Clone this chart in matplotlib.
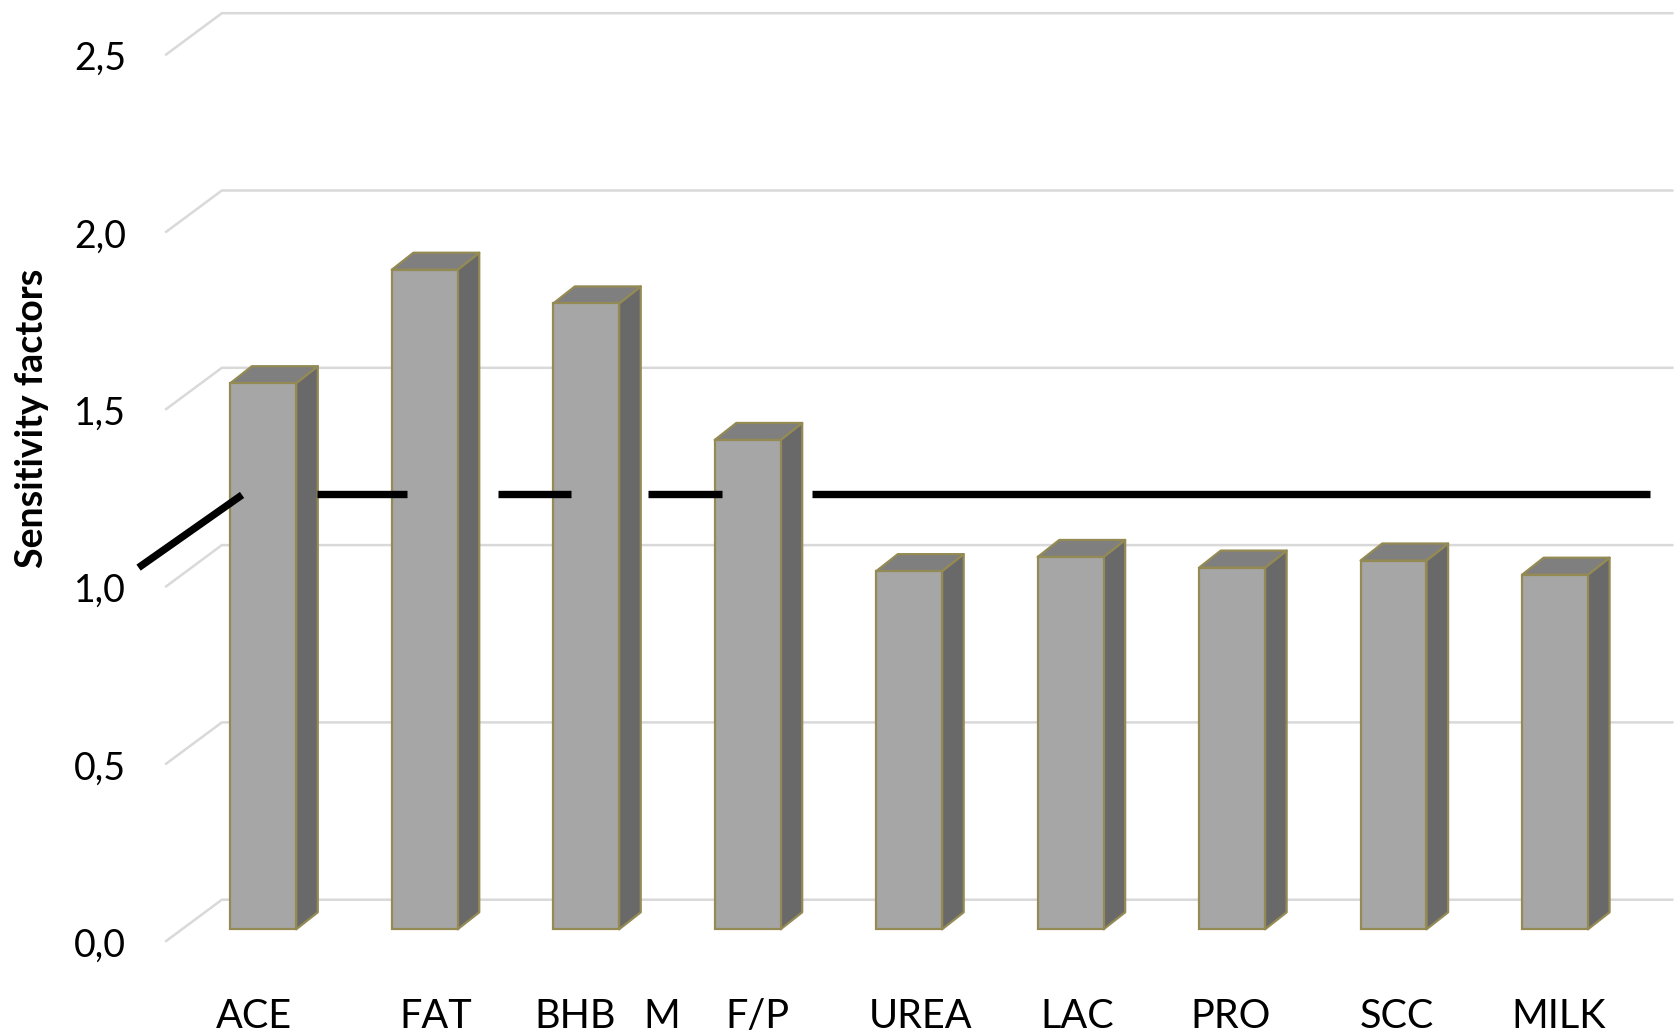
import matplotlib.pyplot as plt
from matplotlib.patches import Polygon
import numpy as np

plt.rcParams['font.family'] = ['Lato', 'DejaVu Sans']

categories = ["ACE", "FAT", "BHB", "F/P", "UREA", "LAC", "PRO", "SCC", "MILK"]
factors = [1.54, 1.86, 1.765, 1.38, 1.01, 1.05, 1.02, 1.04, 1.00]
yticks = [0.0, 0.5, 1.0, 1.5, 2.0, 2.5]
ytick_labels = ["0,0", "0,5", "1,0", "1,5", "2,0", "2,5"]

# label nudges (in category units), plus the stray "M" next to BHB
label_shift = [-0.06, 0.07, -0.07, 0.06, 0.07, 0.04, -0.01, 0.02, 0.02]
extra_label = ("M", 2.47)

# threshold line, drawn in pieces with gaps around the columns
ref_level = 1.228
ref_pieces = [(0.336, 0.889), (1.455, 1.907), (2.380, 2.844), (3.399, 8.588)]
ref_diag = [(-0.772, 1.02), (-0.131, ref_level - 0.003)]

# pseudo-3d geometry
half_w = 0.204
dep_x, dep_y = 0.134, 0.048
wall_dy = 0.0835      # back wall offset above bar faces
floor_dy = -0.035     # front edge of floor
wall_x0, front_x0, right_x = -0.256, -0.607, 8.734

face_c, side_c, top_c = "#A6A6A6", "#696969", "#7F7F7F"
edge_c = "#948A54"
grid_c = "#D9D9D9"

fig = plt.figure(figsize=(16.8, 10.33), dpi=100)
ax = fig.add_axes([0, 0, 1, 1])
ax.set_xlim(-1.63, 8.774)
ax.set_ylim(-0.2924, 2.6207)
ax.axis("off")

# gridlines: horizontal on back wall, diagonal on the floor side
for v in yticks:
    ax.plot([front_x0, wall_x0, right_x], [v + floor_dy, v + wall_dy, v + wall_dy],
            color=grid_c, lw=1.8, zorder=1, solid_capstyle="butt")

x = np.arange(len(categories))
ax.bar(x, factors, width=2 * half_w, color=face_c, edgecolor=edge_c,
       linewidth=1.6, zorder=3)
for xi, v in zip(x, factors):
    r = xi + half_w
    l = xi - half_w
    side = [(r, 0), (r + dep_x, dep_y), (r + dep_x, v + dep_y), (r, v)]
    top = [(l, v), (r, v), (r + dep_x, v + dep_y), (l + dep_x, v + dep_y)]
    ax.add_patch(Polygon(side, closed=True, facecolor=side_c, edgecolor=edge_c,
                         lw=1.6, zorder=2.9, joinstyle="round"))
    ax.add_patch(Polygon(top, closed=True, facecolor=top_c, edgecolor=edge_c,
                         lw=1.6, zorder=2.9, joinstyle="round"))

for a, b in ref_pieces:
    ax.plot([a, b], [ref_level, ref_level], color="black", lw=5.3, zorder=5,
            solid_capstyle="butt")
ax.plot([p[0] for p in ref_diag], [p[1] for p in ref_diag], color="black",
        lw=5.3, zorder=5, solid_capstyle="butt")

for v, s in zip(yticks, ytick_labels):
    ax.text(-0.848, v + floor_dy - 0.042, s, ha="right", va="baseline",
            fontsize=27, color="black")

for xi, name, dx in zip(x, categories, label_shift):
    ax.text(xi + dx, -0.278, name, ha="center", va="baseline",
            fontsize=28.5, color="black")
ax.text(extra_label[1], -0.278, extra_label[0], ha="center", va="baseline",
        fontsize=28.5, color="black")

ax.text(-1.43, 1.44, "Sensitivity factors", rotation=90, ha="center",
        va="center", fontsize=27, fontweight="bold", color="black")

fig.savefig("out.png", dpi=100)
